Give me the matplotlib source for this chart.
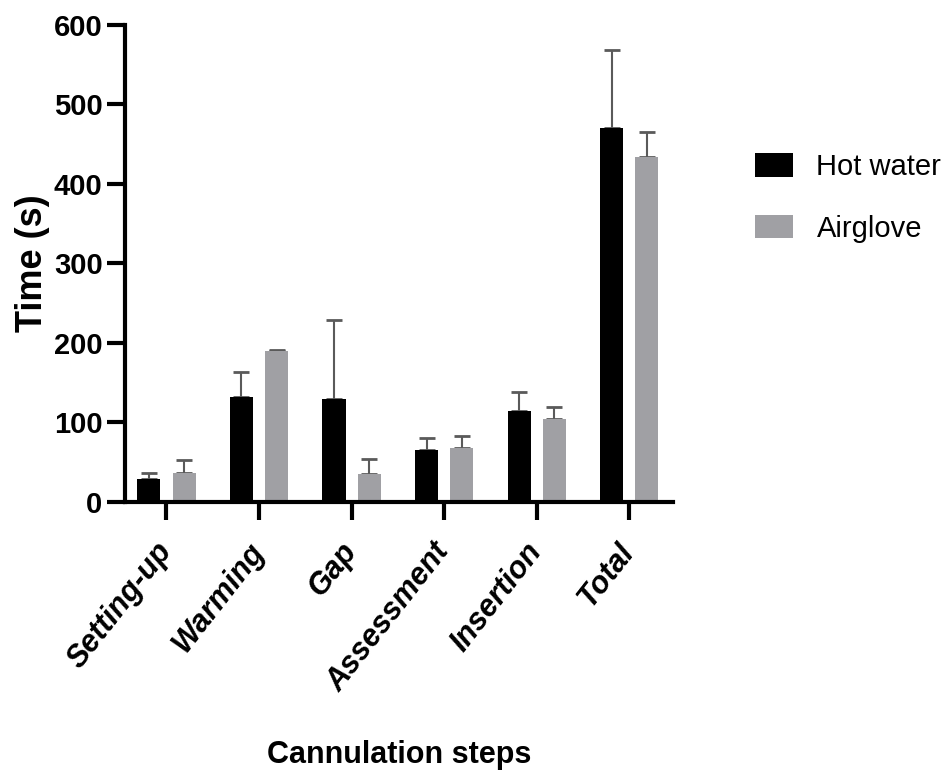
import matplotlib
matplotlib.use("Agg")
import matplotlib.pyplot as plt
import matplotlib.transforms as mtransforms
import numpy as np
from matplotlib.patches import Patch

categories = ["Setting-up", "Warming", "Gap", "Assessment", "Insertion", "Total"]
hot_water = [28.5, 132, 130, 65, 114, 470]
hot_water_err = [8.5, 31, 99, 15, 24, 98]
airglove = [37, 190, 35, 67.5, 104, 434]
airglove_err = [16, 1.5, 19, 15.5, 16, 32]
series_names = ["Hot water", "Airglove"]

FAM = ["Liberation Sans", "DejaVu Sans"]
plt.rcParams['font.family'] = FAM

fig = plt.figure(figsize=(9.53, 7.73), dpi=100)
ax = fig.add_axes([0.131, 0.3506, 0.575, 0.6171])

x = np.arange(len(categories))
w = 0.25
off = 0.19
ax.bar(x - off, hot_water, width=w, color="black", zorder=2)
ax.bar(x + off, airglove, width=w, color="#A0A0A4", zorder=2)
ax.errorbar(x - off, hot_water, yerr=[np.zeros(len(x)), hot_water_err], fmt='none',
            ecolor="#5a5a5a", elinewidth=1.5, capsize=6, capthick=2, zorder=1)
ax.errorbar(x + off, airglove, yerr=[np.zeros(len(x)), airglove_err], fmt='none',
            ecolor="#5a5a5a", elinewidth=1.5, capsize=6, capthick=2, zorder=1)

ax.set_xlim(-0.45, 5.47)
ax.set_ylim(0, 600)
ax.set_yticks(range(0, 601, 100))
ax.set_xticks(x)

for s in ['top', 'right']:
    ax.spines[s].set_visible(False)
for s in ['left', 'bottom']:
    ax.spines[s].set_linewidth(3)
ax.tick_params(axis='both', width=3, length=13, direction='out')
ax.tick_params(axis='y', pad=3)
ax.tick_params(axis='x', pad=8)

ax.set_xticklabels(categories, rotation=52, ha='right', va='top', rotation_mode='anchor',
                   fontsize=22, fontweight='bold', fontstyle='italic')
for lab in ax.get_yticklabels():
    lab.set_fontsize(21)
    lab.set_fontweight('bold')

ax.set_ylabel("Time (s)", fontsize=26, fontweight='bold')
ax.yaxis.set_label_coords(-0.137, 0.5)
ax.set_xlabel("Cannulation steps", fontsize=22, fontweight='bold', va='top')
ax.xaxis.set_label_coords(0.5, -0.50)

handles = [Patch(facecolor="black"), Patch(facecolor="#A0A0A4")]
fig.legend(handles, series_names, loc='upper left', bbox_to_anchor=(0.768, 0.832),
           frameon=False, fontsize=21, handlelength=1.3, handleheight=0.86,
           handletextpad=0.8, labelspacing=1.15, borderpad=0.3)

fig.canvas.draw()
shift = mtransforms.ScaledTranslation(-0.12, -0.06, fig.dpi_scale_trans)
for t in ax.xaxis.get_major_ticks():
    t.label1.set_transform(t.label1.get_transform() + shift)

fig.savefig("out.png", dpi=100)
